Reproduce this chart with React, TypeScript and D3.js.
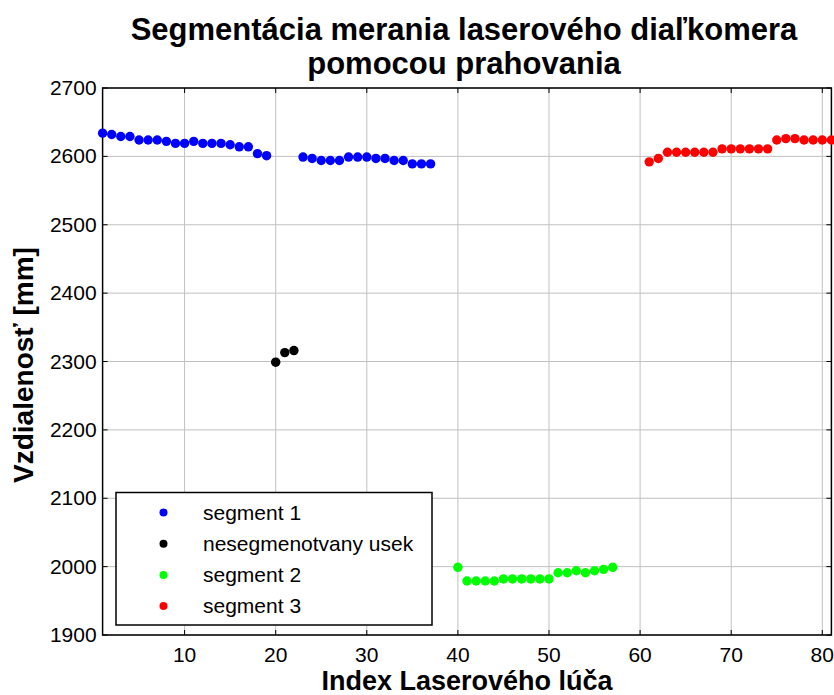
import React, { useRef, useEffect } from "react";
import * as d3 from "d3";

// values
const seg1X = [1, 2, 3, 4, 5, 6, 7, 8, 9, 10, 11, 12, 13, 14, 15, 16, 17, 18, 19, 23, 24, 25, 26, 27, 28, 29, 30, 31, 32, 33, 34, 35, 36, 37];
const seg1Y = [2634, 2632, 2629, 2629, 2624, 2624, 2624, 2622, 2619, 2619, 2622, 2619, 2619, 2619, 2617, 2614, 2614, 2604, 2601, 2599, 2597, 2594, 2594, 2594, 2599, 2599, 2599, 2597, 2597, 2594, 2594, 2589, 2589, 2589];
const unsegX = [20, 21, 22];
const unsegY = [2299, 2313, 2316];
const seg2X = [40, 41, 42, 43, 44, 45, 46, 47, 48, 49, 50, 51, 52, 53, 54, 55, 56, 57];
const seg2Y = [1999, 1979, 1979, 1979, 1979, 1982, 1982, 1982, 1982, 1982, 1982, 1991, 1991, 1994, 1991, 1994, 1996, 1999];
const seg3X = [61, 62, 63, 64, 65, 66, 67, 68, 69, 70, 71, 72, 73, 74, 75, 76, 77, 78, 79, 80, 81];
const seg3Y = [2592, 2597, 2606, 2606, 2606, 2606, 2606, 2606, 2611, 2611, 2611, 2611, 2611, 2611, 2624, 2626, 2626, 2624, 2624, 2624, 2624];

const xTicks = [10, 20, 30, 40, 50, 60, 70, 80];
const yTicks = [1900, 2000, 2100, 2200, 2300, 2400, 2500, 2600, 2700];

const seriesNames = ["segment 1", "nesegmenotvany usek", "segment 2", "segment 3"];
const seriesColors = ["#0000ff", "#000000", "#00ff00", "#ff0000"];

const FONT = "'Liberation Sans', Arial, sans-serif";

const App = () => {
  const ref = useRef(null);

  useEffect(() => {
    const svg = d3.select(ref.current);
    svg.selectAll("*").remove();

    const left = 102.6;
    const right = 831.4;
    const top = 88;
    const bottom = 635;

    const x = d3.scaleLinear().domain([1, 81]).range([left, right]);
    const y = d3.scaleLinear().domain([1900, 2700]).range([bottom, top]);

    svg.append("rect").attr("width", 834).attr("height", 695).attr("fill", "#fff");

    // grid
    const grid = svg.append("g").attr("stroke", "#c0c0c0").attr("stroke-width", 1);
    xTicks.forEach((t) => {
      grid.append("line").attr("x1", x(t)).attr("x2", x(t)).attr("y1", top).attr("y2", bottom);
    });
    yTicks.forEach((t) => {
      grid.append("line").attr("x1", left).attr("x2", right).attr("y1", y(t)).attr("y2", y(t));
    });

    // box + inner ticks
    const ax = svg.append("g").attr("stroke", "#000").attr("stroke-width", 1.5).attr("fill", "none");
    ax.append("rect").attr("x", left).attr("y", top).attr("width", right - left).attr("height", bottom - top);
    const tl = 5;
    xTicks.forEach((t) => {
      ax.append("line").attr("x1", x(t)).attr("x2", x(t)).attr("y1", bottom).attr("y2", bottom - tl).attr("stroke-width", 1);
      ax.append("line").attr("x1", x(t)).attr("x2", x(t)).attr("y1", top).attr("y2", top + tl).attr("stroke-width", 1);
    });
    yTicks.forEach((t) => {
      ax.append("line").attr("x1", left).attr("x2", left + tl).attr("y1", y(t)).attr("y2", y(t)).attr("stroke-width", 1);
      ax.append("line").attr("x1", right).attr("x2", right - tl).attr("y1", y(t)).attr("y2", y(t)).attr("stroke-width", 1);
    });

    // tick labels
    const labels = svg.append("g").attr("font-family", FONT).attr("font-size", 21).attr("fill", "#000");
    xTicks.forEach((t) => {
      labels.append("text").attr("x", x(t)).attr("y", bottom + 27).attr("text-anchor", "middle").text(t);
    });
    yTicks.forEach((t) => {
      labels.append("text").attr("x", left - 6).attr("y", y(t) + 7).attr("text-anchor", "end").text(t);
    });

    // points
    const series = [
      [seg1X, seg1Y],
      [unsegX, unsegY],
      [seg2X, seg2Y],
      [seg3X, seg3Y],
    ];
    series.forEach(([xs, ys], i) => {
      svg
        .append("g")
        .selectAll("circle")
        .data(xs)
        .enter()
        .append("circle")
        .attr("cx", (d: any) => x(d))
        .attr("cy", (_d: any, j: number) => y(ys[j]))
        .attr("r", 4.7)
        .attr("fill", seriesColors[i]);
    });

    // legend
    const lg = svg.append("g");
    lg.append("rect")
      .attr("x", 116)
      .attr("y", 492.5)
      .attr("width", 316)
      .attr("height", 132.5)
      .attr("fill", "#fff")
      .attr("stroke", "#000")
      .attr("stroke-width", 1.5);
    seriesNames.forEach((name, i) => {
      const cy = 512.5 + i * 31.2;
      lg.append("circle").attr("cx", 163.5).attr("cy", cy).attr("r", 4).attr("fill", seriesColors[i]);
      lg.append("text")
        .attr("x", 203)
        .attr("y", cy + 7)
        .attr("font-family", FONT)
        .attr("font-size", 21)
        .text(name);
    });

    // titles
    const title = svg.append("g").attr("font-family", FONT).attr("font-weight", "bold").attr("text-anchor", "middle");
    title.append("text").attr("x", 464).attr("y", 40).attr("font-size", 31).text("Segmentácia merania laserového diaľkomera");
    title.append("text").attr("x", 464).attr("y", 74).attr("font-size", 31).text("pomocou prahovania");
    title.append("text").attr("x", 467).attr("y", 690).attr("font-size", 27).text("Index Laserového lúča");
    title
      .append("text")
      .attr("transform", `translate(33, 365) rotate(-90)`)
      .attr("font-size", 28)
      .text("Vzdialenosť [mm]");
  }, []);

  return (
    <svg
      ref={ref}
      width={834}
      height={695}
      style={{ position: "absolute", left: 0, top: 0, display: "block" }}
    ></svg>
  );
};

export default App;
